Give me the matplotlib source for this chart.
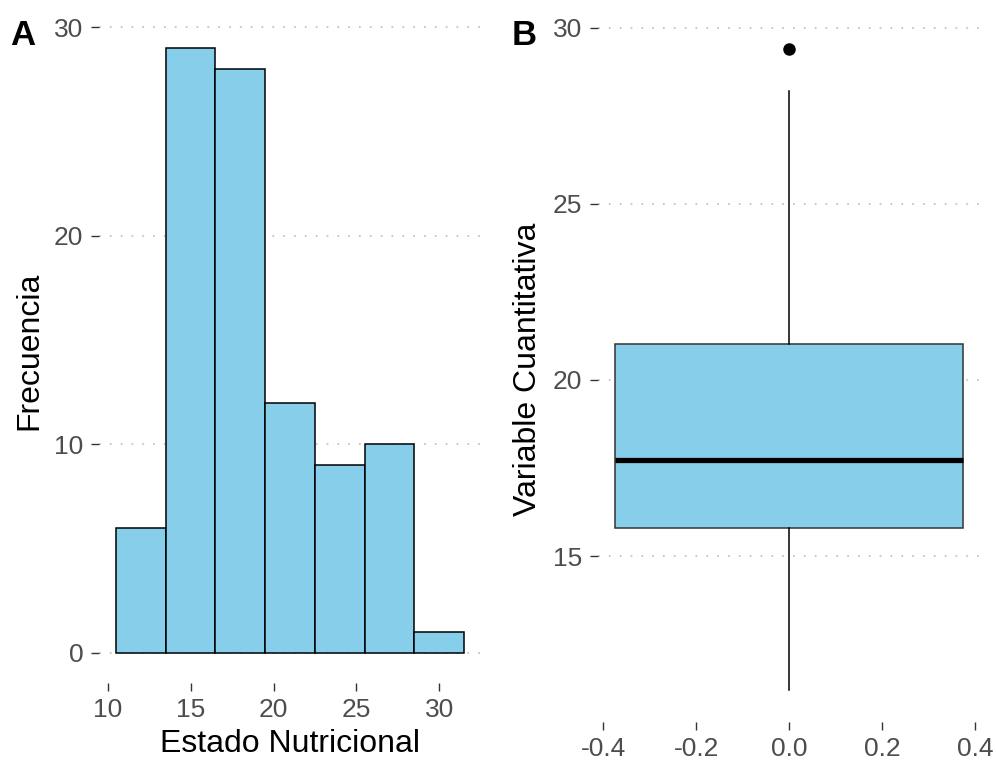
import matplotlib
matplotlib.use("Agg")
import matplotlib.pyplot as plt
import numpy as np

plt.rcParams['font.family'] = ['Liberation Sans', 'DejaVu Sans']

# Panel A: histogram
bin_edges = [10.5, 13.5, 16.5, 19.5, 22.5, 25.5, 28.5, 31.5]
counts = [6, 29, 28, 12, 9, 10, 1]
hist_xticks = [10, 15, 20, 25, 30]
hist_yticks = [0, 10, 20, 30]

# Panel B: boxplot summary
box_stats = dict(med=17.74, q1=15.79, q3=21.02, whislo=11.2, whishi=28.2, fliers=[29.39])
box_xticks = [-0.4, -0.2, 0.0, 0.2, 0.4]
box_yticks = [15, 20, 25, 30]

fill = '#87CEEB'
tick_col = '#4D4D4D'
grid_col = '#C4C4C4'

W, H = 996, 761
fig = plt.figure(figsize=(W/100, H/100), dpi=100)

axA = fig.add_axes([98.6/W, 1-683.2/H, (481.6-98.6)/W, (683.2-18.1)/H])
axB = fig.add_axes([597.6/W, 1-722/H, (980.8-597.6)/W, (722-17)/H])

for ax in (axA, axB):
    for s in ax.spines.values():
        s.set_visible(False)
    ax.set_axisbelow(True)
    ax.yaxis.grid(True, linestyle=(0, (1, 5)), color=grid_col, linewidth=1.3)
    ax.xaxis.grid(False)
    ax.tick_params(axis='both', colors='#333333', labelcolor=tick_col,
                   labelsize=19, length=6, width=1, pad=5)

# Histogram
widths = np.diff(bin_edges)
axA.bar(bin_edges[:-1], counts, width=widths, align='edge', color=fill,
        edgecolor='black', linewidth=1.1)
axA.set_xlim(9.45, 32.55)
axA.set_ylim(-1.45, 30.45)
axA.set_xticks(hist_xticks)
axA.set_yticks(hist_yticks)
axA.set_xlabel('Estado Nutricional', fontsize=23, labelpad=5)
axA.set_ylabel('Frecuencia', fontsize=23, labelpad=7)

# Boxplot
axB.bxp([box_stats], positions=[0], widths=0.75, patch_artist=True,
        showcaps=False, showfliers=True,
        boxprops=dict(facecolor=fill, edgecolor='#333333', linewidth=1.1),
        medianprops=dict(color='black', linewidth=3.8, solid_capstyle='butt'),
        whiskerprops=dict(color='black', linewidth=1.1),
        flierprops=dict(marker='o', markerfacecolor='black', markeredgecolor='black',
                        markersize=8, linestyle='none'))
axB.set_xlim(-0.4125, 0.4125)
axB.set_ylim(10.29, 30.3)
axB.set_xticks(box_xticks)
axB.set_xticklabels([f'{v:.1f}' for v in box_xticks])
axB.set_yticks(box_yticks)
axB.set_ylabel('Variable Cuantitativa', fontsize=23, labelpad=7)

fig.text(10/W, 1-45/H, 'A', fontsize=25, fontweight='bold', ha='left', va='baseline')
fig.text(512/W, 1-45/H, 'B', fontsize=25, fontweight='bold', ha='left', va='baseline')

fig.savefig('out.png', dpi=100)
